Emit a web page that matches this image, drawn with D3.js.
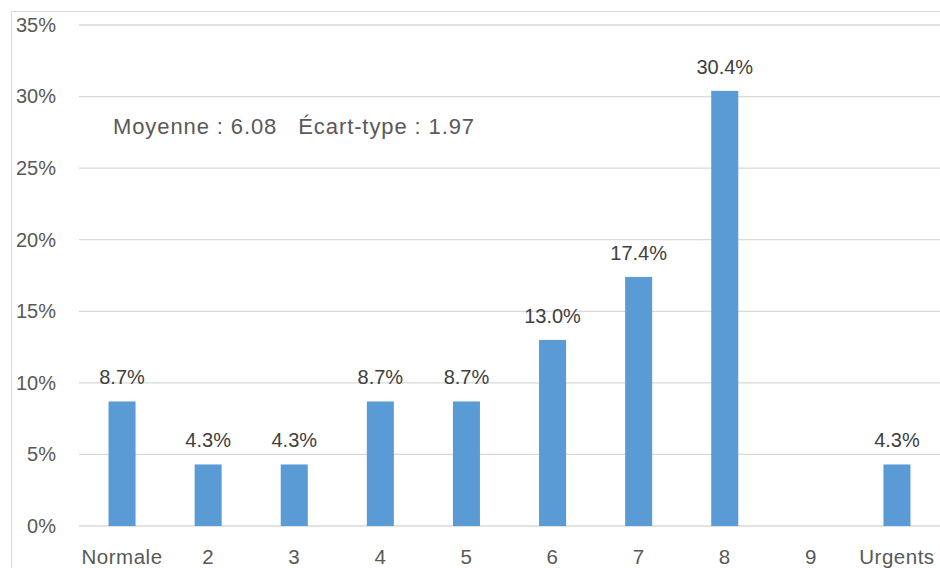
<!DOCTYPE html>
<html>
<head>
<meta charset="utf-8">
<script src="https://d3js.org/d3.v7.min.js"></script>
<style>
  body { margin: 0; background: #fff; font-family: "Liberation Sans", Arial, sans-serif; }
  .tick text { fill: #595959; }
</style>
</head>
<body>
<div id="viz"></div>
<script>
// data
const categories = ["Normale", "2", "3", "4", "5", "6", "7", "8", "9", "Urgents"];
const values = [8.7, 4.3, 4.3, 8.7, 8.7, 13.0, 17.4, 30.4, null, 4.3];
const yTicks = [0, 5, 10, 15, 20, 25, 30, 35];
const note = "Moyenne : 6.08   Écart-type : 1.97";

const W = 940, H = 568;
const margin = {top: 25, right: 0, bottom: 42, left: 79};
const width = W - margin.left - margin.right,
      height = H - margin.top - margin.bottom;

const root = d3.select("#viz").append("svg")
  .attr("width", W).attr("height", H);

// chart frame
root.append("rect")
  .attr("x", 11.5).attr("y", 11.5)
  .attr("width", W).attr("height", H)
  .attr("fill", "none").attr("stroke", "#d9d9d9");

const svg = root.append("g")
  .attr("transform", `translate(${margin.left},${margin.top})`);

const x = d3.scaleBand().domain(categories).range([0, width]).padding(0);
const y = d3.scaleLinear().domain([0, 35]).range([height, 0]);

// gridlines
svg.append("g")
  .selectAll("line")
  .data(yTicks)
  .join("line")
    .attr("x1", 0).attr("x2", width)
    .attr("y1", d => y(d)).attr("y2", d => y(d))
    .attr("stroke", "#d9d9d9").attr("stroke-width", 1.3);

// y axis labels
const yAxis = svg.append("g")
  .attr("transform", "translate(-20,0)")
  .call(d3.axisLeft(y).tickValues(yTicks).tickSize(0).tickFormat(d => d + "%"));
yAxis.select(".domain").remove();
yAxis.selectAll("text").style("font-size", "20px");

// x axis labels
const xAxis = svg.append("g")
  .attr("transform", `translate(0,${height})`)
  .call(d3.axisBottom(x).tickSize(0).tickPadding(23));
xAxis.select(".domain").remove();
xAxis.selectAll("text").style("font-size", "20.5px").style("letter-spacing", "0.5px");

// bars
const bw = x.bandwidth() * 0.314;
const data = categories.map((c, i) => ({cat: c, v: values[i]})).filter(d => d.v != null);

svg.selectAll(".bar")
  .data(data)
  .join("rect")
    .attr("class", "bar")
    .attr("x", d => x(d.cat) + x.bandwidth() / 2 - bw / 2)
    .attr("width", bw)
    .attr("y", d => y(d.v))
    .attr("height", d => y(0) - y(d.v))
    .attr("fill", "#5b9bd5");

// value labels
svg.selectAll(".lbl")
  .data(data)
  .join("text")
    .attr("class", "lbl")
    .attr("x", d => x(d.cat) + x.bandwidth() / 2)
    .attr("y", d => y(d.v) - 17)
    .attr("text-anchor", "middle")
    .attr("fill", "#404040")
    .style("font-size", "20px")
    .text(d => d.v.toFixed(1) + "%");

// stats note
root.append("text")
  .attr("x", 113).attr("y", 134)
  .attr("fill", "#595959")
  .style("font-size", "22px")
  .style("letter-spacing", "0.9px")
  .style("white-space", "pre")
  .attr("xml:space", "preserve")
  .text(note);
</script>
</body>
</html>
